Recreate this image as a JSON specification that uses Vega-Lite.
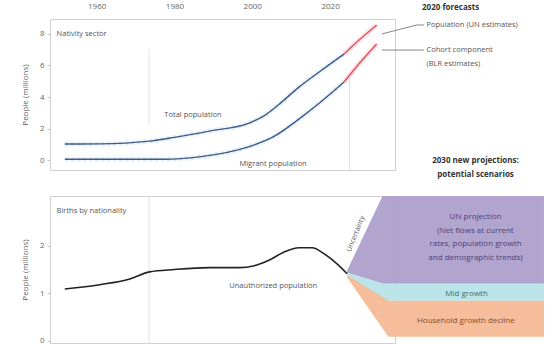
{
  "$schema": "https://vega.github.io/schema/vega-lite/v6.json",
  "padding": {"left": 20, "top": 1, "right": 0, "bottom": 0},
  "spacing": 15,
  "config": {
    "font": "Open Sans",
    "view": {"stroke": "#d0d0d0"},
    "axis": {"labelColor": "#666666", "titleColor": "#666666", "labelFontSize": 8, "titleFontSize": 8, "titleFontWeight": "normal", "domain": false, "grid": false, "tickColor": "#c8c8c8", "tickSize": 3, "labelPadding": 3, "labelOverlap": false}
  },
  "datasets": {
    "topLines": [
      {"year": 1951.8, "value": 1.02, "series": "Total", "part": "past"},
      {"year": 1960.8, "value": 1.03, "series": "Total", "part": "past"},
      {"year": 1973.6, "value": 1.2, "series": "Total", "part": "past"},
      {"year": 1980, "value": 1.44, "series": "Total", "part": "past"},
      {"year": 1989, "value": 1.84, "series": "Total", "part": "past"},
      {"year": 1999.2, "value": 2.35, "series": "Total", "part": "past"},
      {"year": 2003, "value": 2.8, "series": "Total", "part": "past"},
      {"year": 2007, "value": 3.56, "series": "Total", "part": "past"},
      {"year": 2012, "value": 4.63, "series": "Total", "part": "past"},
      {"year": 2017.2, "value": 5.59, "series": "Total", "part": "past"},
      {"year": 2023.6, "value": 6.73, "series": "Total", "part": "past"},
      {"year": 2023.6, "value": 6.73, "series": "Total", "part": "forecast"},
      {"year": 2027.4, "value": 7.6, "series": "Total", "part": "forecast"},
      {"year": 2032, "value": 8.57, "series": "Total", "part": "forecast"},
      {"year": 1951.8, "value": 0.05, "series": "Migrant", "part": "past"},
      {"year": 1977.4, "value": 0.05, "series": "Migrant", "part": "past"},
      {"year": 1986.4, "value": 0.2, "series": "Migrant", "part": "past"},
      {"year": 1999.2, "value": 0.85, "series": "Migrant", "part": "past"},
      {"year": 2005.6, "value": 1.5, "series": "Migrant", "part": "past"},
      {"year": 2012, "value": 2.6, "series": "Migrant", "part": "past"},
      {"year": 2017.2, "value": 3.6, "series": "Migrant", "part": "past"},
      {"year": 2023.6, "value": 4.95, "series": "Migrant", "part": "past"},
      {"year": 2023.6, "value": 4.95, "series": "Migrant", "part": "forecast"},
      {"year": 2027.4, "value": 6.1, "series": "Migrant", "part": "forecast"},
      {"year": 2032, "value": 7.37, "series": "Migrant", "part": "forecast"}
    ],
    "topRules": [
      {"year": 1973.5, "from": 2.2, "to": 7.05},
      {"year": 2025, "from": -0.63, "to": 5.27}
    ],
    "connectors": [
      {"id": "a", "year": 2033.3, "value": 8.0},
      {"id": "a", "year": 2042.3, "value": 8.57},
      {"id": "a", "year": 2044.2, "value": 8.57},
      {"id": "b", "year": 2033.3, "value": 6.98},
      {"id": "b", "year": 2044.2, "value": 6.98}
    ],
    "topText": [
      {"year": 1949.7, "value": 8.0, "label": "Nativity sector"},
      {"year": 1977.4, "value": 2.86, "label": "Total population"},
      {"year": 1996.7, "value": -0.25, "label": "Migrant population"},
      {"year": 2044.8, "value": 8.57, "label": "Population (UN estimates)"},
      {"year": 2044.8, "value": 6.98, "label": "Cohort component"},
      {"year": 2044.8, "value": 6.1, "label": "(BLR estimates)"}
    ],
    "topBold": [
      {"year": 2051, "value": 9.65, "label": "2020 forecasts"},
      {"year": 2057.4, "value": -0.05, "label": "2030 new projections:"},
      {"year": 2057.4, "value": -0.95, "label": "potential scenarios"}
    ],
    "bottomLine": [
      {"year": 1951.8, "value": 1.09},
      {"year": 1960.8, "value": 1.18},
      {"year": 1968.5, "value": 1.3},
      {"year": 1973.6, "value": 1.45},
      {"year": 1980, "value": 1.5},
      {"year": 1989, "value": 1.54},
      {"year": 1996.7, "value": 1.54},
      {"year": 2000.5, "value": 1.58},
      {"year": 2004.4, "value": 1.7},
      {"year": 2008.2, "value": 1.87},
      {"year": 2012, "value": 1.96},
      {"year": 2015.4, "value": 1.96},
      {"year": 2018.5, "value": 1.83},
      {"year": 2021.8, "value": 1.62},
      {"year": 2024.4, "value": 1.41}
    ],
    "fan": [
      {"band": "High", "year": 2024.4, "low": 1.43, "high": 1.48},
      {"band": "High", "year": 2033.5, "low": 1.2, "high": 3.05},
      {"band": "High", "year": 2075, "low": 1.2, "high": 3.05},
      {"band": "Mid", "year": 2024.4, "low": 1.38, "high": 1.43},
      {"band": "Mid", "year": 2034, "low": 0.84, "high": 1.2},
      {"band": "Mid", "year": 2075, "low": 0.84, "high": 1.2},
      {"band": "Low", "year": 2024.4, "low": 1.33, "high": 1.38},
      {"band": "Low", "year": 2035, "low": 0.08, "high": 0.84},
      {"band": "Low", "year": 2075, "low": 0.08, "high": 0.84}
    ],
    "bottomText": [
      {"year": 1949.7, "value": 2.74, "label": "Births by nationality", "band": "none", "align": "left"},
      {"year": 1994.1, "value": 1.16, "label": "Unauthorized population", "band": "none", "align": "left"},
      {"year": 2057.4, "value": 2.61, "label": "UN projection", "band": "High", "align": "center"},
      {"year": 2057.4, "value": 2.32, "label": "(Net flows at current", "band": "High", "align": "center"},
      {"year": 2057.4, "value": 2.04, "label": "rates, population growth", "band": "High", "align": "center"},
      {"year": 2057.4, "value": 1.75, "label": "and demographic trends)", "band": "High", "align": "center"},
      {"year": 2055.1, "value": 0.99, "label": "Mid growth", "band": "Mid", "align": "center"},
      {"year": 2054.9, "value": 0.42, "label": "Household growth decline", "band": "Low", "align": "center"}
    ]
  },
  "vconcat": [
    {
      "width": 345,
      "height": 151,
      "layer": [
        {
          "data": {"name": "topRules"},
          "mark": {"type": "rule", "color": "#e3e3e3", "strokeWidth": 1},
          "encoding": {
            "x": {"field": "year", "type": "quantitative", "scale": {"domain": [1948, 2036.7], "nice": false, "zero": false},
                  "axis": {"orient": "top", "values": [1960, 1980, 2000, 2020], "format": "d", "title": null, "ticks": false, "labelPadding": 9}},
            "y": {"field": "from", "type": "quantitative", "scale": {"domain": [-0.63, 8.95], "nice": false, "zero": false},
                  "axis": {"values": [0, 2, 4, 6, 8], "labelOverlap": false, "labelBound": false, "tickCount": 5, "title": "People (millions)", "titlePadding": 10}},
            "y2": {"field": "to"}
          }
        },
        {
          "data": {"name": "topLines"},
          "mark": {"type": "line", "strokeWidth": 5, "opacity": 0.6, "interpolate": "monotone"},
          "encoding": {
            "x": {"field": "year", "type": "quantitative"},
            "y": {"field": "value", "type": "quantitative"},
            "detail": {"field": "series"},
            "strokeDash": {"field": "part", "legend": null},
            "color": {"field": "part", "type": "nominal", "scale": {"domain": ["past", "forecast"], "range": ["#d4e4f4", "#f8d0d4"]}, "legend": null}
          }
        },
        {
          "data": {"name": "topLines"},
          "mark": {"type": "line", "strokeWidth": 1.4, "interpolate": "monotone"},
          "encoding": {
            "x": {"field": "year", "type": "quantitative"},
            "y": {"field": "value", "type": "quantitative"},
            "detail": {"field": "series"},
            "stroke": {"field": "part", "type": "nominal", "scale": {"domain": ["past", "forecast"], "range": ["#3b5a86", "#e5505c"]}, "legend": null}
          }
        },
        {
          "data": {"name": "connectors"},
          "mark": {"type": "line", "color": "#666666", "strokeWidth": 0.8, "clip": false},
          "encoding": {
            "x": {"field": "year", "type": "quantitative"},
            "y": {"field": "value", "type": "quantitative"},
            "detail": {"field": "id"}
          }
        },
        {
          "data": {"name": "topText"},
          "mark": {"type": "text", "align": "left", "baseline": "middle", "fontSize": 7.5, "color": "#555555", "clip": false},
          "encoding": {
            "x": {"field": "year", "type": "quantitative"},
            "y": {"field": "value", "type": "quantitative"},
            "text": {"field": "label"}
          }
        },
        {
          "data": {"name": "topBold"},
          "mark": {"type": "text", "align": "center", "baseline": "middle", "fontSize": 8, "fontWeight": "bold", "color": "#333333", "clip": false},
          "encoding": {
            "x": {"field": "year", "type": "quantitative"},
            "y": {"field": "value", "type": "quantitative"},
            "text": {"field": "label"}
          }
        }
      ]
    },
    {
      "width": 345,
      "height": 147,
      "layer": [
        {
          "data": {"values": [{"year": 1973.5, "from": -0.05, "to": 3.05}]},
          "mark": {"type": "rule", "color": "#e3e3e3", "strokeWidth": 1},
          "encoding": {
            "x": {"field": "year", "type": "quantitative", "scale": {"domain": [1948, 2036.7], "nice": false, "zero": false}, "axis": null},
            "y": {"field": "from", "type": "quantitative", "scale": {"domain": [-0.05, 3.05], "nice": false, "zero": false},
                  "axis": {"values": [0, 1, 2], "labelOverlap": false, "title": "People (millions)", "titlePadding": 10}},
            "y2": {"field": "to"}
          }
        },
        {
          "data": {"name": "fan"},
          "mark": {"type": "area", "clip": false, "opacity": 0.95},
          "encoding": {
            "x": {"field": "year", "type": "quantitative"},
            "y": {"field": "low", "type": "quantitative"},
            "y2": {"field": "high"},
            "color": {"field": "band", "type": "nominal", "scale": {"domain": ["High", "Mid", "Low"], "range": ["#ad9fcc", "#b6e3e6", "#f4b993"]}, "legend": null}
          }
        },
        {
          "data": {"name": "bottomLine"},
          "mark": {"type": "line", "color": "#222222", "strokeWidth": 1.6, "interpolate": "monotone"},
          "encoding": {
            "x": {"field": "year", "type": "quantitative"},
            "y": {"field": "value", "type": "quantitative"}
          }
        },
        {
          "data": {"values": [{"year": 2026.6, "value": 2.25, "label": "Uncertainty"}]},
          "mark": {"type": "text", "angle": 292, "align": "center", "baseline": "middle", "fontSize": 7, "color": "#555555", "clip": false},
          "encoding": {
            "x": {"field": "year", "type": "quantitative"},
            "y": {"field": "value", "type": "quantitative"},
            "text": {"field": "label"}
          }
        },
        {
          "data": {"name": "bottomText"},
          "transform": [{"filter": "datum.align == 'left'"}],
          "mark": {"type": "text", "align": "left", "baseline": "middle", "fontSize": 7.5, "color": "#555555", "clip": false},
          "encoding": {
            "x": {"field": "year", "type": "quantitative"},
            "y": {"field": "value", "type": "quantitative"},
            "text": {"field": "label"}
          }
        },
        {
          "data": {"name": "bottomText"},
          "transform": [{"filter": "datum.align == 'center'"}],
          "mark": {"type": "text", "align": "center", "baseline": "middle", "fontSize": 8, "clip": false},
          "encoding": {
            "x": {"field": "year", "type": "quantitative"},
            "y": {"field": "value", "type": "quantitative"},
            "text": {"field": "label"},
            "color": {"field": "band", "type": "nominal", "scale": {"domain": ["High", "Mid", "Low"], "range": ["#4e3f75", "#3d6f73", "#8a4a24"]}, "legend": null}
          }
        }
      ],
      "resolve": {"scale": {"color": "independent"}}
    }
  ]
}
